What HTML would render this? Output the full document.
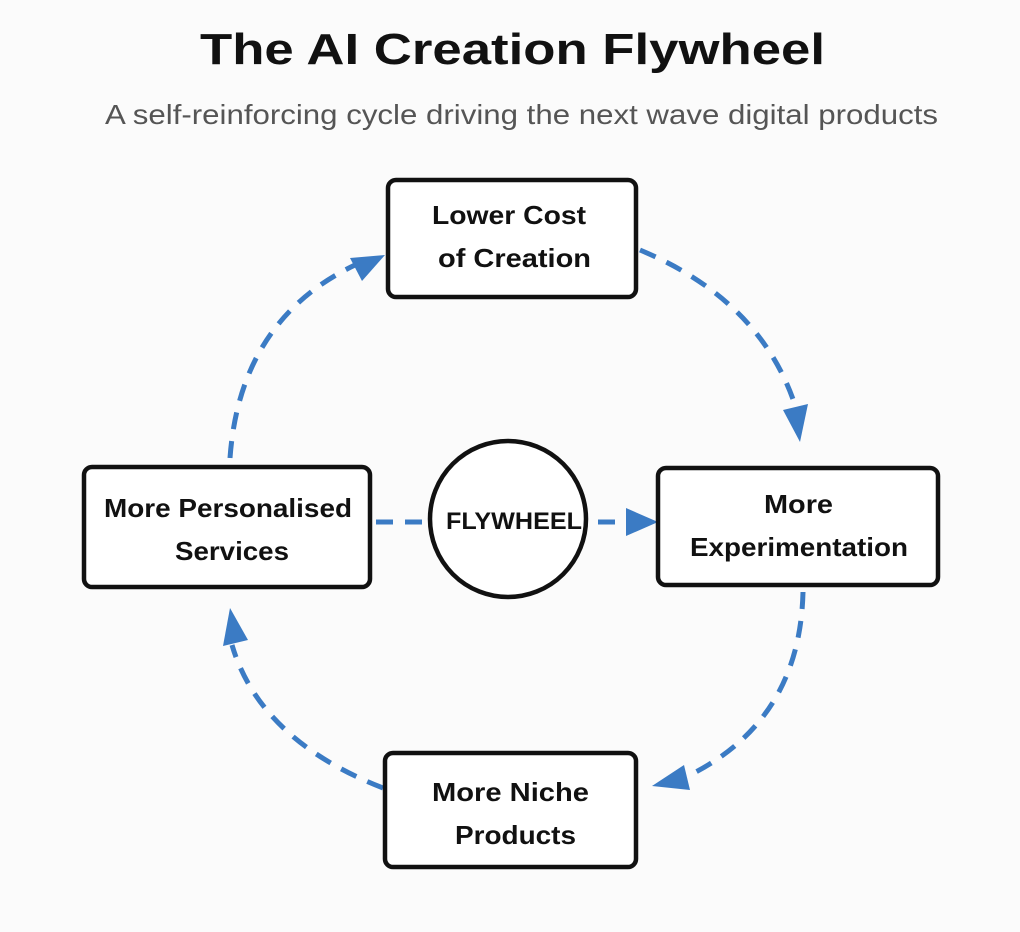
<!DOCTYPE html>
<html><head><meta charset="utf-8"><style>
html,body{margin:0;padding:0;background:#fbfbfb;}
svg{display:block;}
</style></head><body>
<svg width="1020" height="932" viewBox="0 0 1020 932" xmlns="http://www.w3.org/2000/svg">
<rect width="1020" height="932" fill="#fbfbfb"/>
<text x="200" y="64" textLength="625" lengthAdjust="spacingAndGlyphs" font-family="Liberation Sans, sans-serif" font-weight="bold" font-size="44" fill="#111">The AI Creation Flywheel</text>
<text x="105" y="124" textLength="833" lengthAdjust="spacingAndGlyphs" font-family="Liberation Sans, sans-serif" font-size="28" fill="#555">A self-reinforcing cycle driving the next wave digital products</text>

<g fill="none" stroke="#3b7bc4" stroke-width="5" stroke-dasharray="17 12">
<path d="M640 250 Q760 300 795 405"/>
<path d="M803 592 Q800 720 690 775"/>
<path d="M383 788 Q260 740 232 645"/>
<path d="M230 458 Q240 320 355 265"/>
<path d="M376 522 L430 522"/>
<path d="M598 522 L628 522"/>
</g>
<g fill="#3b7bc4">
<polygon points="800,442 783,410 808,404"/>
<polygon points="652,786 684,765 690,790"/>
<polygon points="230,608 248,640 223,646"/>
<polygon points="385,255 350,258 362,281"/>
<polygon points="658,522 626,508 626,536"/>
</g>

<g fill="#fff" stroke="#111" stroke-width="4.5">
<rect x="388" y="180" width="248" height="117" rx="8"/>
<rect x="658" y="468" width="280" height="117" rx="8"/>
<rect x="84" y="467" width="286" height="120" rx="8"/>
<rect x="385" y="753" width="251" height="114" rx="8"/>
<circle cx="508" cy="519" r="78"/>
</g>
<g font-family="Liberation Sans, sans-serif" font-weight="bold" font-size="26" fill="#111" lengthAdjust="spacingAndGlyphs">
<text x="432" y="224" textLength="154" lengthAdjust="spacingAndGlyphs">Lower Cost</text>
<text x="438" y="267" textLength="153" lengthAdjust="spacingAndGlyphs">of Creation</text>
<text x="764" y="513" textLength="69" lengthAdjust="spacingAndGlyphs">More</text>
<text x="690" y="556" textLength="218" lengthAdjust="spacingAndGlyphs">Experimentation</text>
<text x="104" y="517" textLength="248" lengthAdjust="spacingAndGlyphs">More Personalised</text>
<text x="175" y="560" textLength="114" lengthAdjust="spacingAndGlyphs">Services</text>
<text x="432" y="801" textLength="157" lengthAdjust="spacingAndGlyphs">More Niche</text>
<text x="455" y="844" textLength="121" lengthAdjust="spacingAndGlyphs">Products</text>
<text x="446" y="529" font-size="24" textLength="136" lengthAdjust="spacingAndGlyphs">FLYWHEEL</text>
</g>
</svg>
</body></html>
